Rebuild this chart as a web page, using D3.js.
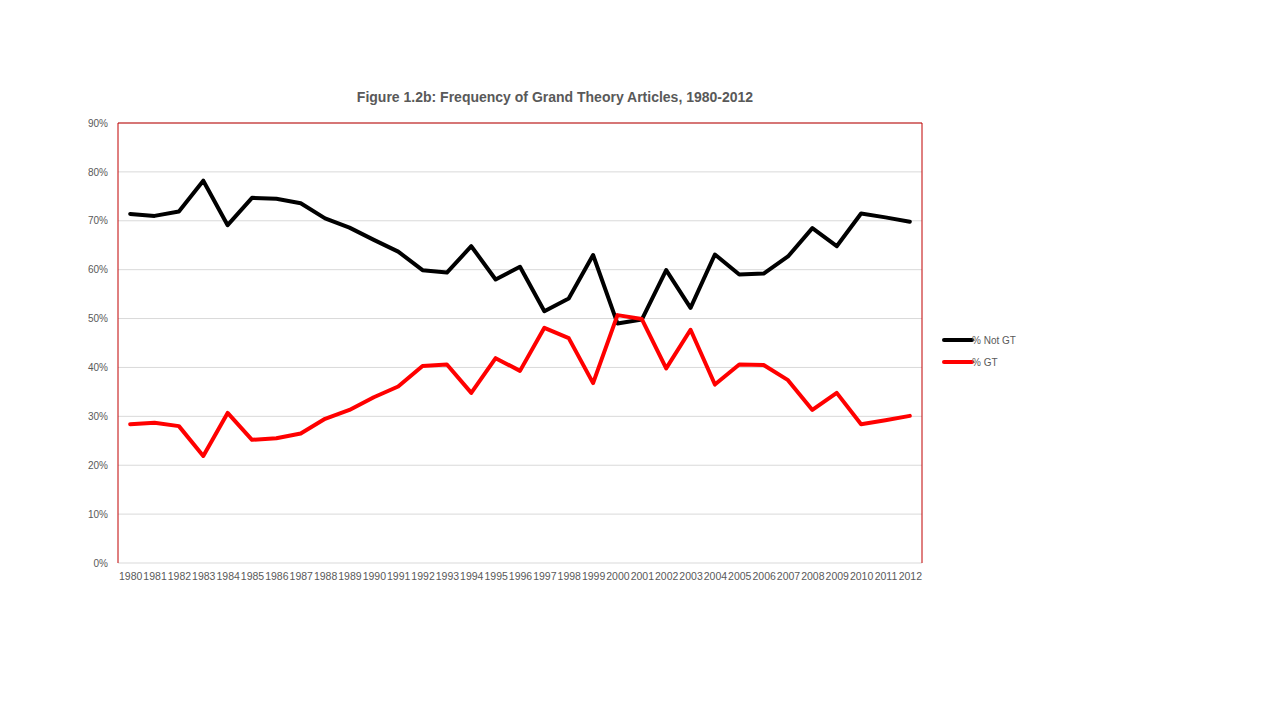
<!DOCTYPE html>
<html>
<head>
<meta charset="utf-8">
<script src="https://cdn.jsdelivr.net/npm/d3@7"></script>
<style>
  html, body { margin: 0; padding: 0; background: #fff; }
  svg { display: block; }
</style>
</head>
<body>
<svg id="chart" width="1280" height="720"></svg>
<script>
const years = ["1980","1981","1982","1983","1984","1985","1986","1987","1988","1989","1990","1991","1992","1993","1994","1995","1996","1997","1998","1999","2000","2001","2002","2003","2004","2005","2006","2007","2008","2009","2010","2011","2012"];
const notGT = [71.4,71.0,71.9,78.2,69.1,74.7,74.5,73.6,70.5,68.6,66.1,63.7,59.9,59.4,64.8,58.0,60.6,51.5,54.1,63.0,49.0,49.8,59.9,52.2,63.1,59.0,59.2,62.7,68.5,64.8,71.5,70.7,69.8];
const gt = [28.4,28.7,28.0,21.9,30.7,25.2,25.5,26.5,29.5,31.3,33.9,36.1,40.3,40.6,34.8,41.9,39.3,48.1,46.0,36.8,50.7,49.9,39.8,47.7,36.5,40.6,40.5,37.4,31.3,34.8,28.4,29.2,30.1];
const yTicks = [0,10,20,30,40,50,60,70,80,90];
const seriesNames = ["% Not GT", "% GT"];
const seriesColors = ["#000000", "#ff0000"];

const svg = d3.select("#chart");
const L = 118, R = 922, T = 123, B = 563;
const textColor = "#595959";
const font = "'Liberation Sans', Arial, sans-serif";

const x = d3.scalePoint().domain(years).range([L, R]).padding(0.5);
const y = d3.scaleLinear().domain([0, 90]).range([B, T]);

// gridlines
svg.append("g").selectAll("line").data(yTicks).join("line")
  .attr("x1", L).attr("x2", R)
  .attr("y1", d => y(d)).attr("y2", d => y(d))
  .attr("stroke", "#d9d9d9").attr("stroke-width", 1);

// y axis labels
const yAxis = d3.axisLeft(y).tickValues(yTicks).tickFormat(d => d + "%").tickSize(0).tickPadding(10);
const gy = svg.append("g").attr("transform", `translate(${L},0)`).call(yAxis);
gy.select(".domain").remove();
gy.selectAll("text").attr("fill", textColor).style("font-family", font).style("font-size", "10px");

// x axis labels
const xAxis = d3.axisBottom(x).tickSize(0).tickPadding(10);
const gx = svg.append("g").attr("transform", `translate(0,${B})`).call(xAxis);
gx.select(".domain").remove();
gx.selectAll("text").attr("fill", textColor).style("font-family", font).style("font-size", "10.5px");

// plot border (left, top, right in red)
svg.append("path")
  .attr("d", `M${L},${B}V${T}H${R}V${B}`)
  .attr("fill", "none").attr("stroke", "#c00000").attr("stroke-width", 1);

// lines
const line = d3.line().x((d, i) => x(years[i])).y(d => y(d));
[notGT, gt].forEach((s, k) => {
  svg.append("path").datum(s)
    .attr("d", line)
    .attr("fill", "none")
    .attr("stroke", seriesColors[k])
    .attr("stroke-width", 4)
    .attr("stroke-linejoin", "round")
    .attr("stroke-linecap", "round");
});

// title
svg.append("text")
  .attr("x", 555).attr("y", 102)
  .attr("text-anchor", "middle")
  .attr("fill", textColor)
  .style("font-family", font)
  .style("font-size", "14px")
  .style("font-weight", "bold")
  .text("Figure 1.2b: Frequency of Grand Theory Articles, 1980-2012");

// legend
const lg = svg.append("g");
seriesNames.forEach((n, k) => {
  const ly = 340 + k * 22;
  lg.append("line").attr("x1", 944).attr("x2", 972).attr("y1", ly).attr("y2", ly)
    .attr("stroke", seriesColors[k]).attr("stroke-width", 4).attr("stroke-linecap", "round");
  lg.append("text").attr("x", 972).attr("y", ly + 3.5)
    .attr("fill", textColor).style("font-family", font).style("font-size", "10px").text(n);
});
</script>
</body>
</html>
